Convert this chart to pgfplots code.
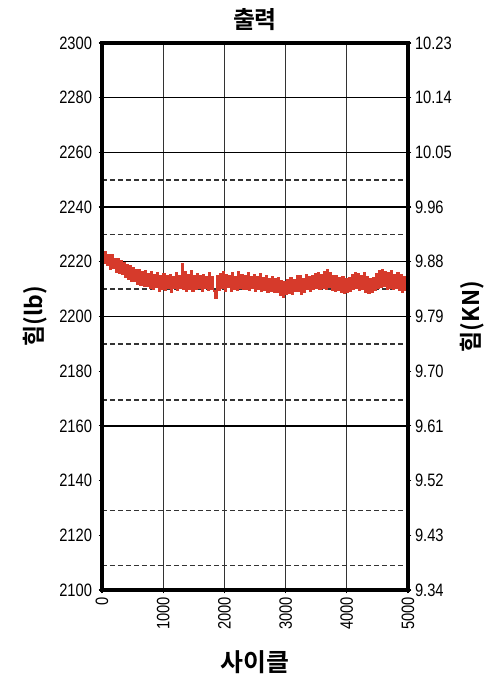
\documentclass[border=0pt]{standalone}
\usepackage{fontspec}
\usepackage{pgfplots}
\pgfplotsset{compat=1.18}
\setmainfont{Liberation Sans}[FakeStretch=0.82]
\newfontfamily\kr{Noto Sans CJK KR}[BoldFont={Noto Sans CJK KR Bold}]
\definecolor{dred}{HTML}{D63A2B}
\begin{document}
\begin{tikzpicture}
\pgfplotsset{
  common/.style={
    scale only axis, width=306bp, height=547bp,
    xmin=0, xmax=5000, ymin=2100, ymax=2300,
    /pgf/number format/assume math mode=true,
    tick label style={font=\fontsize{18}{18}\selectfont},
    tick style={black, line width=1.2pt},
    major tick length=3.5pt,
    tick align=outside,
  }
}
\begin{axis}[common, name=ax, clip=false,
  axis y line*=left, axis x line*=bottom,
  axis line style={draw=none},
  xtick={0,1000,...,5000},
  xticklabels={0,1000,2000,3000,4000,5000},
  xticklabel style={rotate=90, anchor=east},
  ytick={2100,2120,...,2300},
  yticklabels={2100,2120,2140,2160,2180,2200,2220,2240,2260,2280,2300},
  yticklabel style={xshift=-3bp},
  title={\kr\bfseries\fontsize{24}{24}\selectfont 출력},
  title style={at={(0.5,1)}, anchor=center, yshift=17bp},
  xlabel={\kr\bfseries\fontsize{25}{25}\selectfont 사이클},
  xlabel style={at={(axis description cs:0.5,0)}, anchor=center, yshift=-72bp},
  ylabel={\kr\bfseries\fontsize{23}{23}\selectfont 힘(lb)},
  ylabel style={at={(axis description cs:-0.219,0.5)}, anchor=center},
]
\pgfplotsinvokeforeach{1000,2000,3000,4000}{
  \draw[black!80, line width=1.1pt] (axis cs:#1,2100) -- (axis cs:#1,2300);
}
\pgfplotsinvokeforeach{2160,2200,2220,2240,2260,2280}{
  \draw[black, line width=1.3pt] (axis cs:0,#1) -- (axis cs:5000,#1);
}
\pgfplotsinvokeforeach{2109,2129,2169.5,2190,2210,2230,2250}{
  \draw[black!80, line width=1.6pt, dash pattern=on 5bp off 3bp] (axis cs:0,#1) -- (axis cs:5000,#1);
}
\addplot[dred, line width=1.6pt, mark=none, const plot] table {
x y
0 2226.0
25 2219.6
50 2223.8
75 2218.9
100 2222.4
125 2217.4
150 2222.6
175 2217.8
200 2221.2
225 2216.1
250 2221.0
275 2216.0
300 2220.4
325 2215.3
350 2219.8
375 2214.2
400 2218.9
425 2213.6
450 2218.4
475 2213.0
500 2217.9
525 2212.8
550 2217.0
575 2211.9
600 2217.2
625 2211.6
650 2216.5
675 2211.1
700 2216.8
725 2210.9
750 2215.6
775 2210.4
800 2216.2
825 2209.8
850 2215.4
875 2210.6
900 2215.9
925 2209.2
950 2215.0
975 2210.1
1000 2215.7
1025 2209.6
1050 2214.9
1075 2210.3
1100 2215.4
1125 2209.0
1150 2214.6
1175 2210.2
1200 2216.1
1225 2209.7
1250 2215.0
1275 2210.5
1300 2219.4
1325 2210.1
1350 2216.3
1375 2209.4
1400 2215.2
1425 2210.0
1450 2216.6
1475 2209.3
1500 2214.8
1525 2209.8
1550 2215.5
1575 2210.4
1600 2214.7
1625 2209.1
1650 2215.3
1675 2210.2
1700 2214.6
1725 2209.5
1750 2215.8
1775 2209.9
1800 2214.4
1825 2209.3
1850 2206.8
1875 2214.9
1900 2209.7
1925 2215.6
1950 2210.3
1975 2216.2
2000 2209.4
2025 2215.1
2050 2210.6
2075 2214.8
2100 2209.2
2125 2215.9
2150 2210.0
2175 2214.5
2200 2209.6
2225 2216.4
2250 2210.4
2275 2215.3
2300 2209.8
2325 2214.7
2350 2210.1
2375 2215.8
2400 2209.5
2425 2214.6
2450 2210.3
2475 2215.2
2500 2209.4
2525 2214.4
2550 2210.0
2575 2215.6
2600 2209.1
2625 2214.1
2650 2209.7
2675 2214.8
2700 2208.9
2725 2213.9
2750 2209.3
2775 2214.6
2800 2208.7
2825 2213.8
2850 2209.0
2875 2214.2
2900 2207.9
2925 2213.1
2950 2206.9
2975 2212.8
3000 2208.2
3025 2213.6
3050 2208.6
3075 2214.3
3100 2208.0
3125 2213.4
3150 2209.1
3175 2215.0
3200 2209.4
3225 2214.7
3250 2208.3
3275 2213.9
3300 2209.0
3325 2215.4
3350 2209.8
3375 2214.6
3400 2209.3
3425 2214.9
3450 2209.9
3475 2215.7
3500 2210.2
3525 2216.1
3550 2209.8
3575 2215.2
3600 2210.4
3625 2216.3
3650 2210.0
3675 2217.2
3700 2210.6
3725 2215.8
3750 2209.5
3775 2214.9
3800 2209.2
3825 2215.0
3850 2209.7
3875 2214.3
3900 2208.8
3925 2214.6
3950 2208.4
3975 2213.7
4000 2208.9
4025 2214.2
4050 2209.4
4075 2215.3
4100 2209.8
4125 2216.0
4150 2210.3
4175 2215.6
4200 2209.6
4225 2214.8
4250 2209.9
4275 2215.9
4300 2209.0
4325 2214.5
4350 2208.4
4375 2213.8
4400 2208.7
4425 2214.3
4450 2209.6
4475 2215.7
4500 2210.2
4525 2216.6
4550 2210.8
4575 2217.0
4600 2210.9
4625 2216.2
4650 2210.1
4675 2215.8
4700 2210.4
4725 2216.7
4750 2209.8
4775 2215.3
4800 2210.5
4825 2216.0
4850 2209.6
4875 2215.1
4900 2208.9
4925 2214.6
4950 2209.7
4975 2215.6
5000 2208.0
};
\draw[black, line width=3.4pt] (rel axis cs:0,0) rectangle (rel axis cs:1,1);
\end{axis}
\begin{axis}[common,
  axis y line*=right, axis x line=none,
  axis line style={draw=none},
  ytick={2100,2120,...,2300},
  yticklabels={9.34,9.43,9.52,9.61,9.70,9.79,9.88,9.96,10.05,10.14,10.23},
  ylabel={\kr\bfseries\fontsize{23}{23}\selectfont 힘(KN)},
  ylabel style={at={(axis description cs:1.209,0.5)}, anchor=center, rotate=0},
]
\end{axis}
\pgfresetboundingbox
\path (ax.south west) ++(-102bp,-87bp) rectangle ++(495bp,677bp);
\end{tikzpicture}
\end{document}
